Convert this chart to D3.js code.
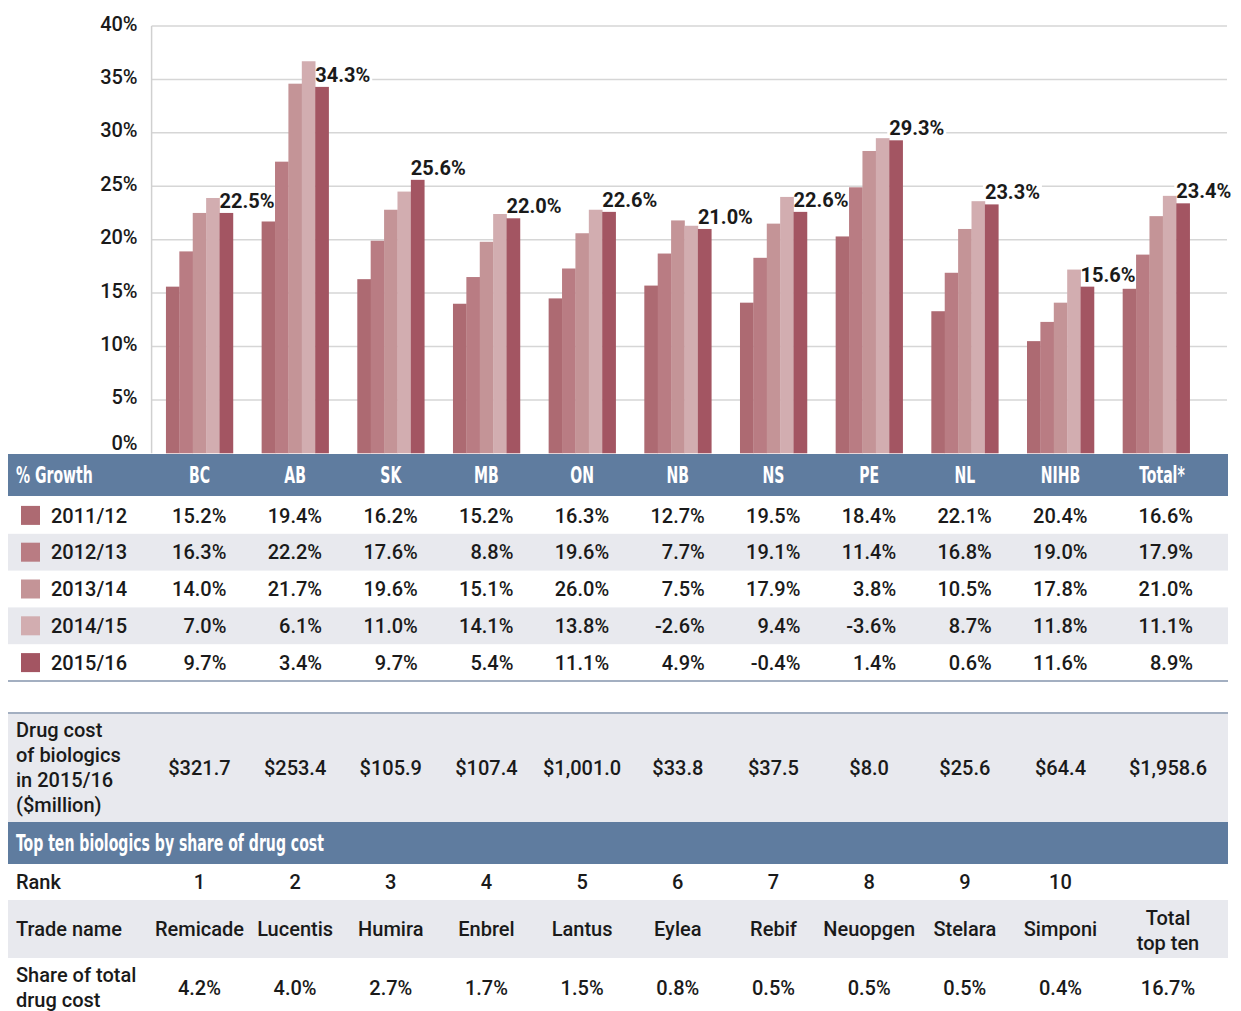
<!DOCTYPE html>
<html>
<head>
  <meta charset="utf-8">
  <title>Biologics share of drug cost</title>
  <style>
    body { margin: 0; background: #fff; }
    text { font-family: Roboto, "DejaVu Sans", sans-serif; fill: #1a1a1a; }
    .tick-label { font-size: 20px; font-weight: 500; }
    .bar-label { font-size: 20px; font-weight: bold; }
    .cell { font-size: 20px; font-weight: 500; }
    .band-text {
      font-family: "DejaVu Sans Condensed", "DejaVu Sans", sans-serif;
      font-size: 23px;
      font-weight: bold;
      fill: #fff;
    }
  </style>
</head>
<body>
  <svg id="chart"></svg>

  <script src="https://d3js.org/d3.v7.min.js"></script>
  <script>
    // data
    const regions = ["BC", "AB", "SK", "MB", "ON", "NB", "NS", "PE", "NL", "NIHB", "Total*"];
    const years = ["2011/12", "2012/13", "2013/14", "2014/15", "2015/16"];

    // biologics share of drug cost (bars)
    const share1112 = [15.6, 21.7, 16.3, 14.0, 14.5, 15.7, 14.1, 20.3, 13.3, 10.5, 15.4];
    const share1213 = [18.9, 27.3, 19.9, 16.5, 17.3, 18.7, 18.3, 24.9, 16.9, 12.3, 18.6];
    const share1314 = [22.5, 34.6, 22.8, 19.8, 20.6, 21.8, 21.5, 28.3, 21.0, 14.1, 22.2];
    const share1415 = [23.9, 36.7, 24.5, 22.4, 22.8, 21.3, 24.0, 29.5, 23.6, 17.2, 24.1];
    const share1516 = [22.5, 34.3, 25.6, 22.0, 22.6, 21.0, 22.6, 29.3, 23.3, 15.6, 23.4];

    // % growth table
    const growth1112 = [15.2, 19.4, 16.2, 15.2, 16.3, 12.7, 19.5, 18.4, 22.1, 20.4, 16.6];
    const growth1213 = [16.3, 22.2, 17.6, 8.8, 19.6, 7.7, 19.1, 11.4, 16.8, 19.0, 17.9];
    const growth1314 = [14.0, 21.7, 19.6, 15.1, 26.0, 7.5, 17.9, 3.8, 10.5, 17.8, 21.0];
    const growth1415 = [7.0, 6.1, 11.0, 14.1, 13.8, -2.6, 9.4, -3.6, 8.7, 11.8, 11.1];
    const growth1516 = [9.7, 3.4, 9.7, 5.4, 11.1, 4.9, -0.4, 1.4, 0.6, 11.6, 8.9];

    const drugCost = [321.7, 253.4, 105.9, 107.4, 1001.0, 33.8, 37.5, 8.0, 25.6, 64.4, 1958.6];

    const ranks = [1, 2, 3, 4, 5, 6, 7, 8, 9, 10];
    const tradeNames = ["Remicade", "Lucentis", "Humira", "Enbrel", "Lantus", "Eylea", "Rebif", "Neuopgen", "Stelara", "Simponi"];
    const shareOfCost = [4.2, 4.0, 2.7, 1.7, 1.5, 0.8, 0.5, 0.5, 0.5, 0.4];
    const totalTopTen = 16.7;

    const yTicks = [0, 5, 10, 15, 20, 25, 30, 35, 40];

    const shares = [share1112, share1213, share1314, share1415, share1516];
    const growth = [growth1112, growth1213, growth1314, growth1415, growth1516];
    const colors = ["#ad6a72", "#b97c83", "#c49497", "#d2adb0", "#a35562"];
    const blue = "#5f7c9f";
    const grey = "#e8e9ee";

    const width = 1241, height = 1011;
    const svg = d3.select("#chart").attr("width", width).attr("height", height);

    // scales
    const x = d3.scaleBand()
      .domain(regions)
      .range([151.6, 1204])
      .paddingInner(0.3)
      .paddingOuter(0.15);
    const xInner = d3.scaleBand()
      .domain(years)
      .range([0, x.bandwidth()]);
    const y = d3.scaleLinear()
      .domain([0, 40])
      .range([453.3, 26]);

    // gridlines
    svg.append("g")
      .selectAll("line")
      .data(yTicks.filter(d => d > 0))
      .join("line")
      .attr("x1", 151.6).attr("x2", 1227)
      .attr("y1", d => y(d)).attr("y2", d => y(d))
      .attr("stroke", "#d6d6d6")
      .attr("stroke-width", 1.5);

    svg.append("line")
      .attr("x1", 151.6).attr("x2", 151.6)
      .attr("y1", y(40)).attr("y2", y(0))
      .attr("stroke", "#d0d0d0")
      .attr("stroke-width", 1.5);

    // y axis labels
    const yAxis = svg.append("g")
      .attr("transform", "translate(151.6,0)")
      .call(d3.axisLeft(y).tickValues(yTicks).tickSize(0).tickPadding(14).tickFormat(d => d + "%"));
    yAxis.select(".domain").remove();
    yAxis.selectAll("text")
      .attr("class", "tick-label")
      .attr("fill", "#1a1a1a")
      .attr("dy", d => d === 0 ? "-0.2em" : "0.2em");

    // label backgrounds go under the bars
    const labelBg = svg.append("g");

    // bars
    const groups = svg.append("g")
      .selectAll("g")
      .data(regions)
      .join("g")
      .attr("transform", d => `translate(${x(d)},0)`);

    groups.selectAll("rect")
      .data((r, i) => years.map((yr, k) => ({ year: yr, k: k, value: shares[k][i] })))
      .join("rect")
      .attr("x", d => xInner(d.year))
      .attr("width", xInner.bandwidth() + 0.3)
      .attr("y", d => y(d.value))
      .attr("height", d => y(0) - y(d.value))
      .attr("fill", d => colors[d.k]);

    // labels on the latest year
    const labels = svg.append("g")
      .selectAll("text")
      .data(regions)
      .join("text")
      .attr("class", "bar-label")
      .attr("x", d => x(d) + xInner("2015/16"))
      .attr("y", (d, i) => y(share1516[i]) - 5)
      .text((d, i) => share1516[i].toFixed(1) + "%");

    labels.each(function() {
      const b = this.getBBox();
      labelBg.append("rect")
        .attr("x", b.x - 2).attr("y", b.y)
        .attr("width", b.width + 4).attr("height", b.height)
        .attr("fill", "#fff");
    });

    // table
    const tLeft = 8, tRight = 1228;
    const colX = i => i < 10 ? x(regions[i]) + x.bandwidth() / 2 : 1166;
    const table = svg.append("g");
    const squeeze = 0.68; // condensed look for the band headings

    function band(y0, h, fill) {
      table.append("rect")
        .attr("x", tLeft).attr("y", y0)
        .attr("width", tRight - tLeft).attr("height", h)
        .attr("fill", fill);
    }

    function hline(yy) {
      table.append("line")
        .attr("x1", tLeft).attr("x2", tRight)
        .attr("y1", yy).attr("y2", yy)
        .attr("stroke", "#8595ad")
        .attr("stroke-width", 1.5);
    }

    function cell(xx, yy, txt, anchor) {
      return table.append("text")
        .attr("class", "cell")
        .attr("x", xx).attr("y", yy)
        .attr("dy", "0.36em")
        .attr("text-anchor", anchor || "middle")
        .text(txt);
    }

    function bandText(xx, yy, txt, anchor) {
      return table.append("text")
        .attr("class", "band-text")
        .attr("transform", `translate(${xx},${yy}) scale(${squeeze},1)`)
        .attr("dy", "0.36em")
        .attr("text-anchor", anchor || "start")
        .text(txt);
    }

    // growth header
    band(454, 42, blue);
    bandText(16, 475, "% Growth");
    regions.forEach((r, i) => bandText(i < 10 ? colX(i) : 1162, 475, r, "middle"));

    // growth rows
    const rowH = 36.8;
    years.forEach((yr, k) => {
      const top = 497 + k * rowH;
      const cy = top + rowH / 2;
      if (k % 2 === 1) band(top, rowH, grey);
      table.append("rect")
        .attr("x", 21).attr("y", cy - 9.5)
        .attr("width", 19).attr("height", 19)
        .attr("fill", colors[k]);
      cell(51, cy, yr, "start");
      growth[k].forEach((v, i) => {
        cell(colX(i) + 27, cy, v.toFixed(1) + "%", "end");
      });
    });
    hline(681);

    // drug cost row
    hline(713);
    band(714, 108, grey);
    ["Drug cost", "of biologics", "in 2015/16", "($million)"].forEach((t, j) => {
      cell(16, 730 + j * 25, t, "start");
    });
    drugCost.forEach((v, i) => {
      cell(colX(i) + (i === 10 ? 2 : 0), 768, "$" + d3.format(",.1f")(v));
    });

    // top ten header
    band(822, 42, blue);
    bandText(16, 843, "Top ten biologics by share of drug cost");

    // rank
    cell(16, 882, "Rank", "start");
    ranks.forEach((r, i) => cell(colX(i), 882, r));

    // trade name
    band(900, 58, grey);
    cell(16, 929, "Trade name", "start");
    tradeNames.forEach((t, i) => cell(colX(i), 929, t));
    cell(colX(10) + 2, 918, "Total");
    cell(colX(10) + 2, 943, "top ten");

    // share of total drug cost
    cell(16, 975, "Share of total", "start");
    cell(16, 1000, "drug cost", "start");
    shareOfCost.forEach((v, i) => cell(colX(i), 988, v.toFixed(1) + "%"));
    cell(colX(10) + 2, 988, totalTopTen.toFixed(1) + "%");
  </script>
</body>
</html>
